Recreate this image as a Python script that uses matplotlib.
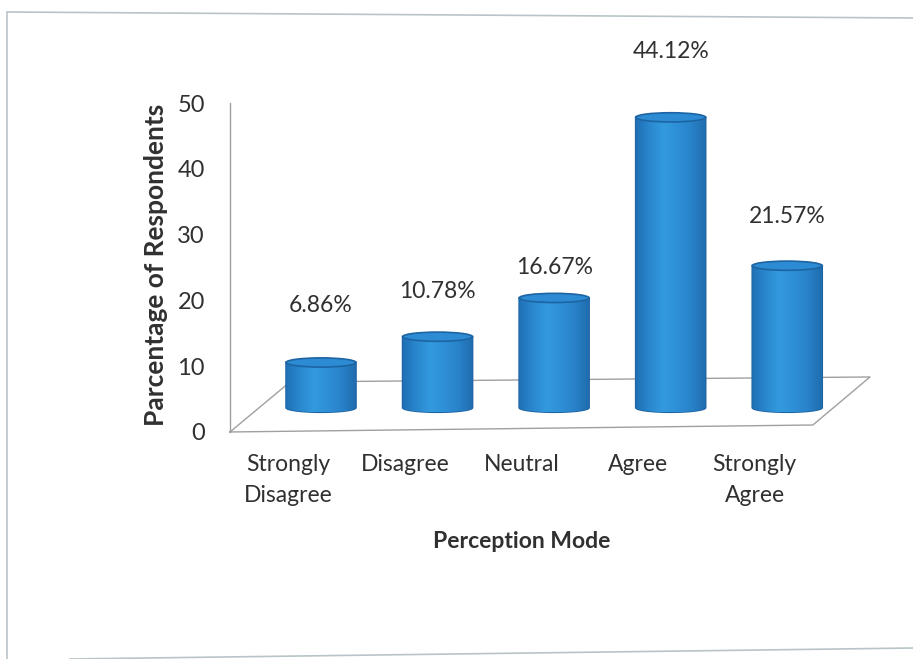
import numpy as np
import matplotlib
matplotlib.use("Agg")
import matplotlib.pyplot as plt
from matplotlib.path import Path
from matplotlib.patches import PathPatch, Ellipse
from matplotlib.colors import LinearSegmentedColormap
from matplotlib.lines import Line2D

plt.rcParams["font.family"] = ["Lato", "DejaVu Sans"]

# survey results
categories = ["Strongly\nDisagree", "Disagree", "Neutral", "Agree", "Strongly\nAgree"]
percent = [6.86, 10.78, 16.67, 44.12, 21.57]
value_labels = ["6.86%", "10.78%", "16.67%", "44.12%", "21.57%"]
yticks = [0, 10, 20, 30, 40, 50]

# pseudo-3D look
FLOOR = 3.7        # cylinders stand this far "behind" the zero line
CYL_W = 0.6
CYL_E = 1.4        # ellipse height of the cylinder caps
LABEL_LIFT = [8.7, 6.8, 4.7, 10.0, 7.5]
TEXT = "#303030"

fig = plt.figure(figsize=(9.13, 6.59), dpi=100)
ax = fig.add_axes([0.2519, 0.3445, 0.701, 0.4992])
ax.set_xlim(-0.781, 4.71)
ax.set_ylim(0, 50)

for s in ["top", "right", "bottom"]:
    ax.spines[s].set_visible(False)
ax.spines["left"].set_color("#a0a0a0")
ax.spines["left"].set_linewidth(1.0)
ax.set_yticks(yticks)
ax.set_yticklabels([str(t) for t in yticks], fontsize=17, color=TEXT)
ax.tick_params(axis="y", length=0, pad=18)
ax.set_xticks([])

# floor of the plot area
floor_x = [-0.781, -0.266, 4.71, 4.22, -0.781]
floor_y = [0, 7.6, 8.36, 1.06, 0]
ax.plot(floor_x, floor_y, color="#a0a0a0", lw=1.0, clip_on=False, zorder=1)

shade = LinearSegmentedColormap.from_list(
    "cyl", ["#1f70b4", "#2a88cf", "#339ade", "#2e8fd6", "#2982c8", "#1f6cae"])
grad = np.linspace(0, 1, 256).reshape(1, -1)

t = np.linspace(np.pi, 2 * np.pi, 60)
for i, v in enumerate(percent):
    x0 = i
    top = FLOOR + v
    left, right = x0 - CYL_W / 2, x0 + CYL_W / 2
    bx = x0 + CYL_W / 2 * np.cos(t)
    by = FLOOR + CYL_E / 2 * np.sin(t)
    verts = [(left, top)] + list(zip(bx, by)) + [(right, top), (left, top)]
    codes = [Path.MOVETO] + [Path.LINETO] * (len(verts) - 2) + [Path.CLOSEPOLY]
    body = PathPatch(Path(verts, codes), facecolor="#2a86cc",
                     edgecolor="#1d64a3", lw=1.2, zorder=3, clip_on=False)
    ax.add_patch(body)
    img = ax.imshow(grad, cmap=shade, aspect="auto", zorder=3.5,
                    extent=[left, right, FLOOR - CYL_E / 2, top],
                    interpolation="bicubic")
    img.set_clip_path(body)
    cap = Ellipse((x0, top), CYL_W, CYL_E, facecolor="#2c8bd3",
                  edgecolor="#1d64a3", lw=1.2, zorder=4, clip_on=False)
    ax.add_patch(cap)
    ax.text(x0, top + LABEL_LIFT[i], value_labels[i], ha="center", va="center",
            fontsize=16.5, color=TEXT, zorder=5)
    ax.text(x0 - 0.28, -3.3, categories[i], ha="center", va="top",
            fontsize=16.5, color=TEXT, linespacing=1.6, clip_on=False)

ax.set_xlim(-0.781, 4.71)
ax.set_ylim(0, 50)

fig.text(0.571, 0.179, "Perception Mode", ha="center", va="center",
         fontsize=16.5, fontweight="bold", color=TEXT)
fig.text(0.171, 0.598, "Parcentage of Respondents", rotation=90,
         ha="center", va="center", fontsize=19, fontweight="bold", color=TEXT)

# outer frame of the chart area
frame = "#b9c4c8"
fig.add_artist(Line2D([8 / 913, 1.0], [1 - 12 / 659, 1 - 18 / 659],
                      transform=fig.transFigure, color=frame, lw=1.2))
fig.add_artist(Line2D([7 / 913, 7 / 913], [1 - 12 / 659, 0.0],
                      transform=fig.transFigure, color=frame, lw=1.2))
fig.add_artist(Line2D([70 / 913, 1.0], [0.0, 11 / 659],
                      transform=fig.transFigure, color=frame, lw=1.2))

fig.savefig("out.png", dpi=100)
